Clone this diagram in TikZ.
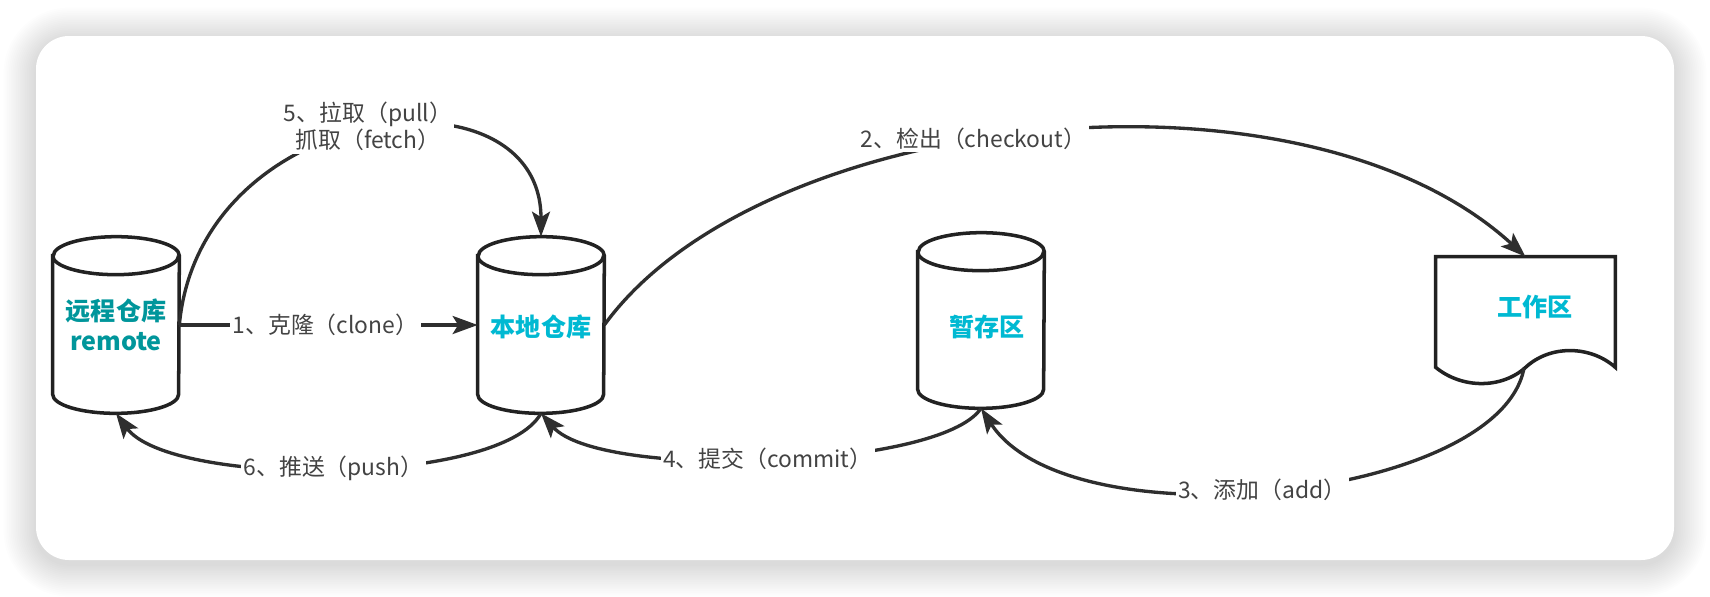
\documentclass[tikz,border=0pt]{standalone}
\usepackage{fontspec}
\newfontfamily\cjk{Noto Sans CJK SC}
\usetikzlibrary{arrows.meta,calc}
\definecolor{ink}{HTML}{2E2E2E}
\definecolor{edge}{HTML}{222222}
\definecolor{teal1}{RGB}{0,150,155}
\definecolor{cyan1}{RGB}{0,185,210}
\tikzset{
  conn/.style={draw=ink, line width=1.9pt},
  arr/.style={conn, -{Stealth[length=0.5cm,width=0.36cm,inset=0.11cm]}},
  lbl/.style={font=\cjk\fontsize{13}{15.5}\selectfont, text=ink!90!white, fill=white, inner sep=1.5pt, align=center},
  title/.style={font=\cjk\bfseries\fontsize{14.3}{17}\selectfont, align=center, inner sep=0pt},
  holder/.style={draw=none, inner sep=0pt, minimum width=2.52cm, minimum height=3.52cm},
  shapeline/.style={draw=edge, line width=2pt, fill=white},
}
\newcommand{\drawcyl}[1]{%
  \path[shapeline] ($(#1.north west)+(0,19)$) -- ($(#1.south west)+(0,-19)$)
    arc[start angle=180,end angle=360,x radius=1.26cm,y radius=0.38cm]
    -- ($(#1.north east)+(0,19)$)
    arc[start angle=0,end angle=180,x radius=1.26cm,y radius=0.38cm] -- cycle;
  \draw[shapeline, fill=none] ($(#1.north west)+(0,19)$)
    arc[start angle=180,end angle=360,x radius=1.26cm,y radius=0.38cm];}
\begin{document}
\begin{tikzpicture}[x=0.02cm, y=-0.02cm]
\useasboundingbox (0,0) rectangle (1710,596);
\fill[white] (0,0) rectangle (1710,596);
% shadow
\foreach \i in {1,...,18}{
  \pgfmathsetmacro\rr{0.66+\i*0.036}
  \fill[black, opacity=0.009, rounded corners=\rr cm]
    ({36-1.8*\i},{36-1.8*\i+4}) rectangle ({1674+1.8*\i},{560+1.8*\i+4});
}
% card
\fill[white, rounded corners=0.66cm] (36,36) rectangle (1674,560);

% node holders
\node[holder] (remote) at (116,325) {};
\node[holder] (local) at (541,325) {};
\node[holder, minimum height=3.5cm] (stage) at (981,320.5) {};
\node[draw=none, inner sep=0pt, minimum width=3.58cm, minimum height=2.2cm] (work) at (1525.5,312) {};

% shapes
\drawcyl{remote}
\drawcyl{local}
\drawcyl{stage}
\path[shapeline] (work.south west) -- (work.north west) -- (work.north east) -- (work.south east)
  .. controls (1590,345) and (1550,345) .. (1526,367)
  .. controls (1502,389) and (1462,389) .. (work.south west) -- cycle;
\coordinate (workb) at (1524,368);

% texts
\node[title, text=teal1] (remoteT) at (116,325) {远程仓库\\remote};
\node[title, text=cyan1] (localT) at (541,327) {本地仓库};
\node[title, text=cyan1] (stageT) at (987,327) {暂存区};
\node[title, text=cyan1] (workT) at (1535,307) {工作区};

% connectors
\draw[arr] (remote.east) -- node[lbl, pos=0.49] (l1) {1、克隆（clone）} (local.west);
\draw[arr] (remote.east) .. controls (200,100) and (541,60) .. node[lbl, pos=0.5, yshift=2pt] (l5) {5、拉取（pull）\\抓取（fetch）} (local.north);
\draw[arr] (local.east) .. controls (760,110) and (1300,50) .. node[lbl, pos=0.44, yshift=1pt] (l2) {2、检出（checkout）} (work.north);
\draw[arr] (workb) .. controls (1500,500) and (1070,545) .. node[lbl, pos=0.52] (l3) {3、添加（add）} (stage.south);
\draw[arr] (stage.south) .. controls (940,470) and (600,480) .. node[lbl, pos=0.5] (l4) {4、提交（commit）} (local.south);
\draw[arr] (local.south) .. controls (500,487) and (170,487) .. node[lbl, pos=0.5] (l6) {6、推送（push）} (remote.south);
\end{tikzpicture}
\end{document}
